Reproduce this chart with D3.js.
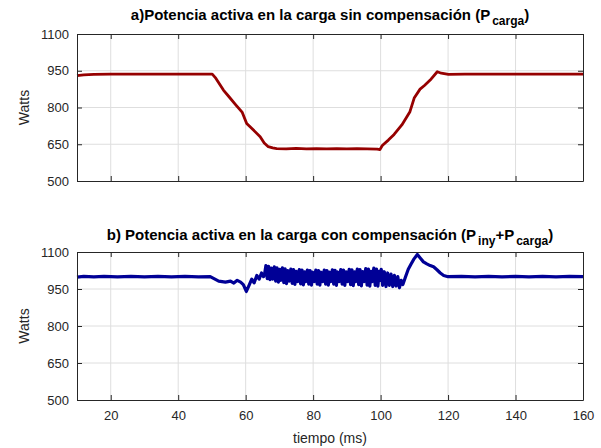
<!DOCTYPE html>
<html>
<head>
<meta charset="utf-8">
<script src="https://cdn.jsdelivr.net/npm/d3@7"></script>
<style>
  body { margin: 0; background: #fff; }
  svg { font-family: "Liberation Sans", Arial, sans-serif; }
</style>
</head>
<body>
<svg id="chart" width="601" height="448"></svg>
<script>
// tick values
const xTicks = [20, 40, 60, 80, 100, 120, 140, 160];
const yTicks = [500, 650, 800, 950, 1100];

// a) load power without compensation (t in ms, P in W)
const tCarga = [10, 12, 15, 20, 30, 40, 50.1, 51, 53.4, 55, 57, 59, 60.3, 62, 64.3, 65.5, 66.7, 68, 69.2,
  72, 75, 78, 81, 84, 87, 90, 93, 96, 99, 99.8, 100.5, 102.3, 104, 106.3, 108.7, 110, 111.7, 113, 114.7,
  116.8, 118, 120.1, 125, 140, 160];
const pCarga = [930, 933, 935, 936, 936, 936, 936, 922, 871, 845, 812, 780, 735, 712, 681, 655, 640, 635, 632,
  631, 633, 631, 632, 631, 632, 631, 632, 631, 630, 628, 645, 667, 690, 729, 783, 840, 875, 890, 912,
  946, 940, 935, 936, 936, 936];

// b) load power with compensation (Piny + Pcarga)
const tComp = [10, 12, 15, 18, 22, 26, 30, 34, 38, 42, 46, 49.5, 52, 54, 55.5, 56.5, 57.5, 58.5, 59.3, 60.2,
  61.0, 61.8, 62.5, 63.3, 64.0, 64.7, 65.3,
  65.6, 66.0, 66.4, 66.8, 67.2, 67.6, 68.0,
  68.1, 68.5, 68.9, 69.3, 69.7, 70.1, 70.4,
  70.5, 70.9, 71.3, 71.7, 72.1, 72.5, 72.9,
  73.0, 73.4, 73.8, 74.2, 74.6, 75.0, 75.4,
  75.5, 75.9, 76.3, 76.7, 77.1, 77.5, 77.8,
  77.9, 78.3, 78.7, 79.1, 79.5, 79.9, 80.3,
  80.4, 80.8, 81.2, 81.6, 82.0, 82.4, 82.8,
  82.9, 83.3, 83.7, 84.1, 84.5, 84.9, 85.2,
  85.3, 85.7, 86.1, 86.5, 86.9, 87.3, 87.7,
  87.8, 88.2, 88.6, 89.0, 89.4, 89.8, 90.2,
  90.3, 90.7, 91.1, 91.5, 91.9, 92.3, 92.6,
  92.7, 93.1, 93.5, 93.9, 94.3, 94.7, 95.1,
  95.2, 95.6, 96.0, 96.4, 96.8, 97.2, 97.5,
  97.6, 98.0, 98.4, 98.8, 99.2, 99.6, 99.9,
  100.2, 100.6, 101.1, 101.6, 102.1, 102.6, 103.1, 103.6, 104.1, 104.6, 105.1, 105.6, 106.1, 106.6,
  107.4, 108.2, 109.0, 109.8, 110.9, 111.8, 112.7, 113.7, 114.7, 115.7, 116.7, 117.7, 118.7, 120,
  124, 128, 132, 136, 140, 144, 148, 152, 156, 160];
const pComp = [998, 1001, 999, 1001, 999, 1001, 999, 1001, 999, 1001, 999, 1000, 982, 978, 982, 974, 985, 978, 968, 940,
  965, 990, 975, 1005, 990, 1015, 1000,
  1010, 1045, 992, 1042, 988, 1035, 990,
  1005, 1040, 982, 1036, 978, 1030, 985,
  1000, 1036, 976, 1032, 972, 1025, 982,
  1000, 1031, 973, 1029, 969, 1022, 980,
  998, 1029, 971, 1027, 967, 1020, 980,
  998, 1027, 970, 1025, 966, 1018, 980,
  998, 1027, 970, 1025, 966, 1018, 980,
  998, 1027, 970, 1025, 966, 1018, 980,
  998, 1028, 970, 1026, 965, 1019, 980,
  998, 1029, 970, 1027, 965, 1020, 980,
  998, 1030, 968, 1028, 964, 1020, 980,
  998, 1031, 968, 1029, 963, 1021, 980,
  998, 1033, 966, 1031, 962, 1022, 980,
  1000, 1035, 965, 1031, 962, 1022, 985,
  1030, 965, 1020, 960, 1015, 965, 1010, 960, 1005, 962, 1000, 955, 985, 968,
  1000, 1030, 1050, 1070, 1090, 1075, 1060, 1052, 1045, 1040, 1028, 1015, 1005, 1000,
  1001, 999, 1001, 999, 1001, 999, 1001, 999, 1001, 1000];

const svg = d3.select("#chart");
const left = 77, right = 583;
const x = d3.scaleLinear().domain([10, 160]).range([left, right]);

function drawPanel(top, bottom, ts, ps, color, width, showX) {
  const y = d3.scaleLinear().domain([500, 1100]).range([bottom, top]);
  const g = svg.append("g");

  // grid
  g.selectAll(".gx").data(xTicks.filter(d => d < 160)).join("line")
    .attr("x1", d => x(d)).attr("x2", d => x(d))
    .attr("y1", top).attr("y2", bottom)
    .attr("stroke", "#dedede").attr("stroke-width", 1);
  g.selectAll(".gy").data(yTicks.filter(d => d > 500 && d < 1100)).join("line")
    .attr("x1", left).attr("x2", right)
    .attr("y1", d => y(d)).attr("y2", d => y(d))
    .attr("stroke", "#dedede").attr("stroke-width", 1);

  // data line
  const line = d3.line().x((d, i) => x(ts[i])).y(d => y(d));
  g.append("path").datum(ps)
    .attr("d", line)
    .attr("fill", "none")
    .attr("stroke", color)
    .attr("stroke-width", width)
    .attr("stroke-linejoin", "round");

  // axes (box with inward ticks)
  const ax = d3.axisBottom(x).tickValues(xTicks).tickSizeInner(-5).tickSizeOuter(0)
    .tickFormat(showX ? d3.format("d") : () => "");
  const axTop = d3.axisTop(x).tickValues(xTicks).tickSizeInner(-5).tickSizeOuter(0).tickFormat(() => "");
  const ay = d3.axisLeft(y).tickValues(yTicks).tickSizeInner(-5).tickSizeOuter(0).tickFormat(d3.format("d"));
  const ayR = d3.axisRight(y).tickValues(yTicks).tickSizeInner(-5).tickSizeOuter(0).tickFormat(() => "");

  const gb = g.append("g").attr("transform", `translate(0,${bottom})`).call(ax);
  const gt = g.append("g").attr("transform", `translate(0,${top})`).call(axTop);
  const gl = g.append("g").attr("transform", `translate(${left},0)`).call(ay);
  const gr = g.append("g").attr("transform", `translate(${right},0)`).call(ayR);

  [gb, gt, gl, gr].forEach(a => {
    a.select(".domain").attr("stroke", "#262626").attr("stroke-width", 1);
    a.selectAll(".tick line").attr("stroke", "#262626");
    a.selectAll(".tick text").attr("fill", "#262626")
      .style("font-size", "13px").style("font-family", "'Liberation Sans', Arial, sans-serif");
  });
  gl.selectAll(".tick text").attr("x", -8);
  gb.selectAll(".tick text").attr("y", 11);

  svg.append("text")
    .attr("transform", `translate(29,${(top + bottom) / 2}) rotate(-90)`)
    .attr("text-anchor", "middle")
    .attr("fill", "#262626")
    .style("font-size", "14px")
    .text("Watts");
}

drawPanel(34, 181, tCarga, pCarga, "#960000", 2.8, false);
drawPanel(252, 400, tComp, pComp, "#000096", 3.2, true);

// titles with subscripts
function title(yPos, parts) {
  const t = svg.append("text")
    .attr("x", 330).attr("y", yPos)
    .attr("text-anchor", "middle")
    .attr("fill", "#000")
    .style("font-size", "15px")
    .style("font-weight", "bold");
  parts.forEach(p => {
    const s = t.append("tspan").text(p.text);
    if (p.sub) s.attr("dx", 2).attr("dy", 5).style("font-size", "12px");
    if (p.back) s.attr("dy", -5);
  });
}
title(20, [
  { text: "a)Potencia activa en la carga sin compensación (P" },
  { text: "carga", sub: true },
  { text: ")", back: true }
]);
title(240, [
  { text: "b) Potencia activa en la carga con compensación (P" },
  { text: "iny", sub: true },
  { text: "+P", back: true },
  { text: "carga", sub: true },
  { text: ")", back: true }
]);

svg.append("text")
  .attr("x", 330).attr("y", 443)
  .attr("text-anchor", "middle")
  .attr("fill", "#262626")
  .style("font-size", "14px")
  .text("tiempo (ms)");
</script>
</body>
</html>
